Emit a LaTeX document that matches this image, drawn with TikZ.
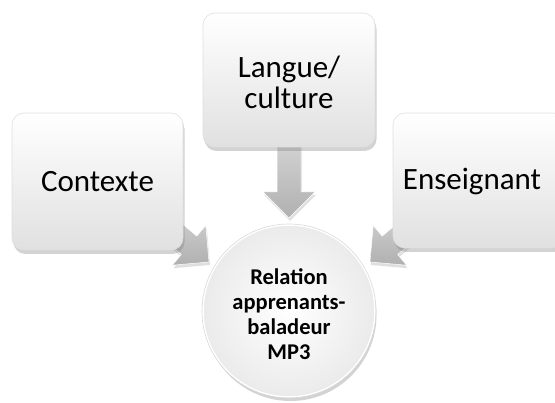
\documentclass[tikz,border=0pt]{standalone}
\usepackage{fontspec}
\setmainfont{Carlito}
\usetikzlibrary{shadows,calc}
\newcommand\blockarr[3]{%
  \begin{scope}[shift={#1},rotate=#2]
    \path[arrowstyle] (0,0) -- (-26,26) -- (-26,12) -- (-#3,12) -- (-#3,-12) -- (-26,-12) -- (-26,-26) -- cycle;
  \end{scope}}
\begin{document}
\begin{tikzpicture}[x=1pt,y=-1pt,
  boxstyle/.style={rectangle, rounded corners=12pt, draw=gray!25, line width=0.6pt,
    top color=white, bottom color=gray!24,
    drop shadow={shadow xshift=1.5pt, shadow yshift=-4pt, opacity=0.35}, inner sep=0pt},
  boxtext/.style={font=\fontsize{31}{31}\selectfont, align=center, text=black, inner sep=0pt},
  circstyle/.style={circle, draw=white, line width=1.5pt, inner color=white, outer color=gray!16,
    drop shadow={shadow xshift=1.5pt, shadow yshift=-4pt, opacity=0.35},
    minimum size=172pt, inner sep=0pt},
  circtext/.style={font=\fontsize{22.5}{25}\selectfont\bfseries, align=center, text=black},
  arrowstyle/.style={top color=gray!35, bottom color=gray!62, draw=white, line width=0.5pt,
    drop shadow={shadow xshift=1pt, shadow yshift=-3pt, opacity=0.25}}
]
\clip (0,0) rectangle (555,403);
\useasboundingbox (0,0) rectangle (555,403);
% named anchors for arrow tips
\coordinate (tipT) at (289,218);
\coordinate (tipL) at (209,262);
\coordinate (tipR) at (370,262);
% arrows (behind the boxes)
\blockarr{(tipT)}{-90}{75}
\blockarr{(tipL)}{-40}{65}
\blockarr{(tipR)}{-140}{65}
% boxes
\node[boxstyle, minimum width=171pt, minimum height=137pt] (ctx) at (97.5,181.5) {};
\node[boxtext] (ctxt) at (ctx.center) {Contexte};
\node[boxstyle, minimum width=172pt, minimum height=134pt] (lang) at (289,80) {};
\node[boxtext] (langt) at (289,82) {Langue/\\culture};
\node[boxstyle, minimum width=172pt, minimum height=135pt] (ens) at (479,180.5) {};
\node[boxtext] (enst) at (472,181.5) {Enseignant};
% circle
\node[circstyle] (rel) at (289,311) {};
\draw[gray!30, line width=0.6pt] (rel) circle (87pt);
\node[circtext] (relt) at (289,314) {Relation\\apprenants-\\baladeur\\MP3};
\end{tikzpicture}
\end{document}
